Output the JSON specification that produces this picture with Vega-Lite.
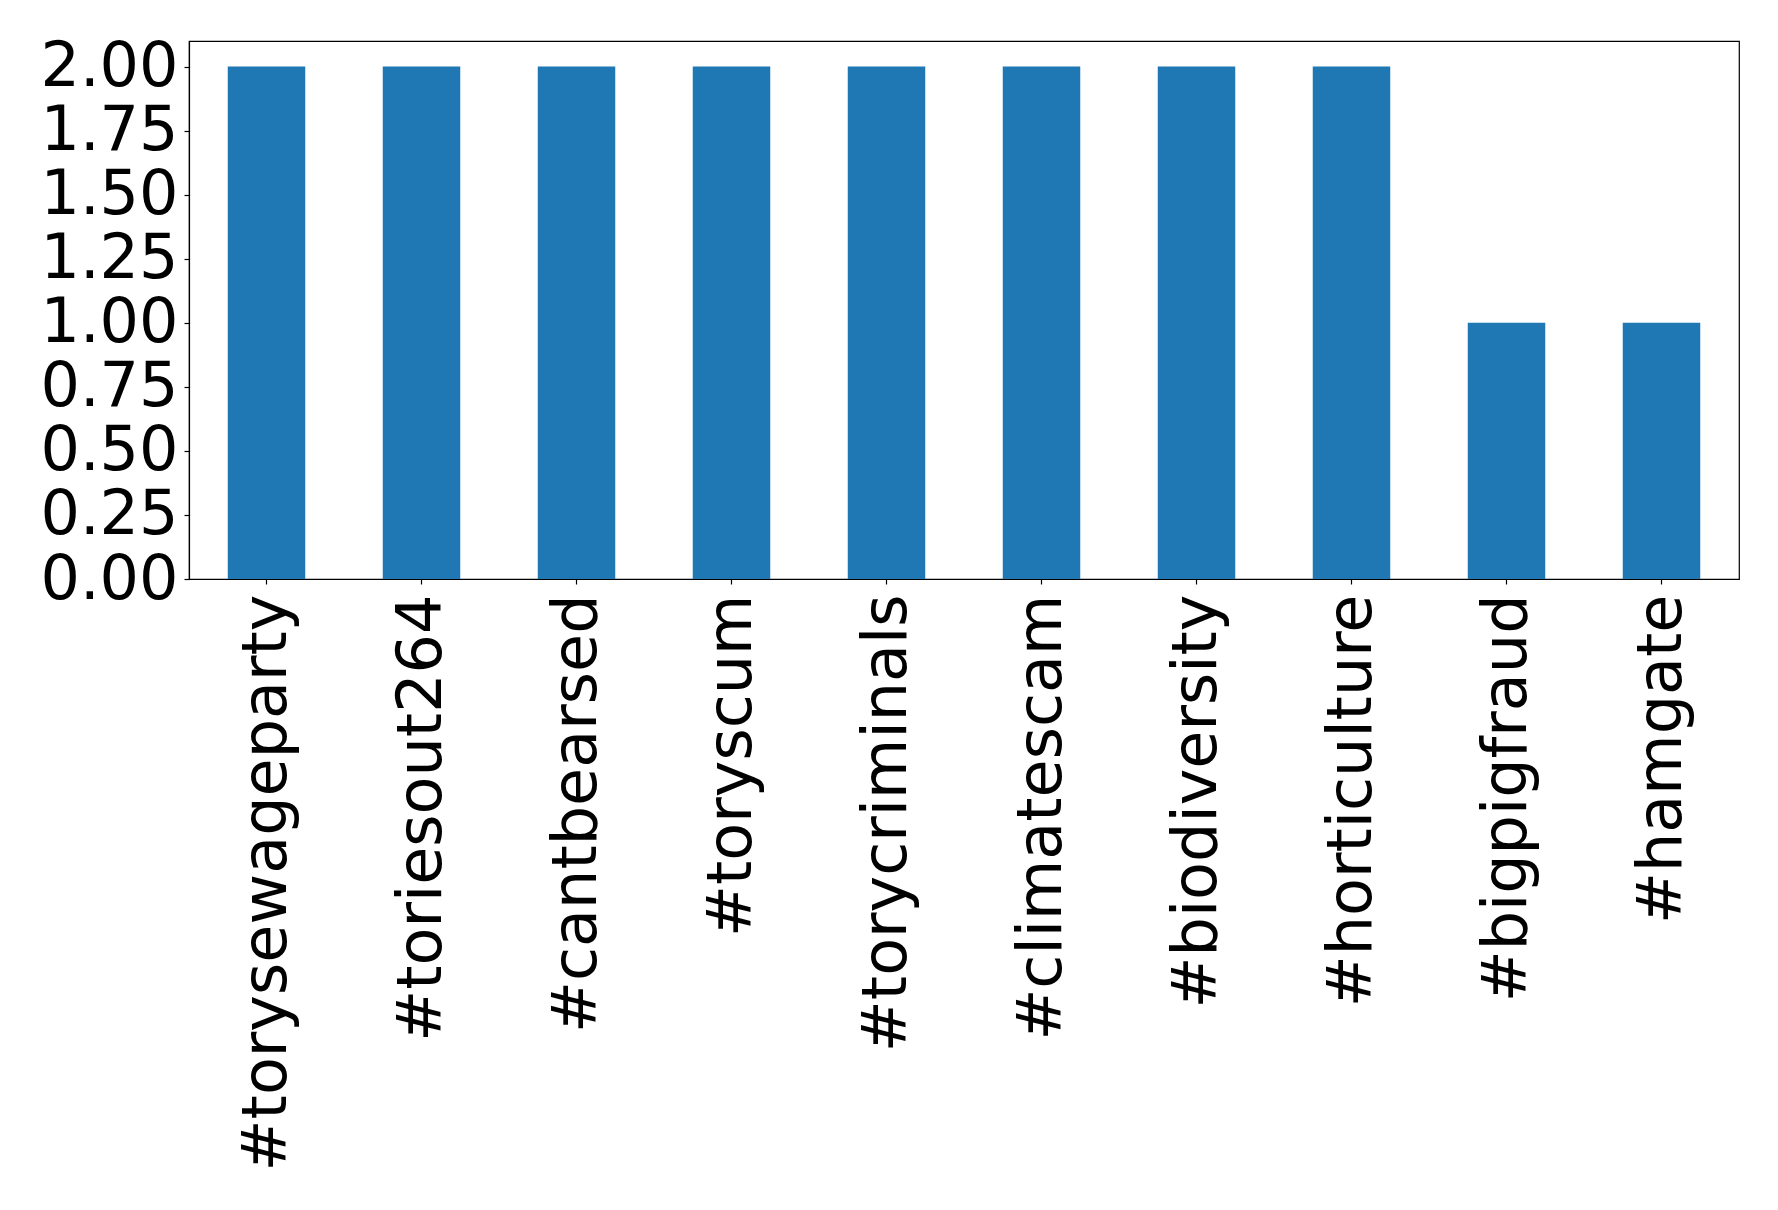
{
  "$schema": "https://vega.github.io/schema/vega-lite/v6.json",
  "autosize": "none",
  "padding": {"left": 189, "top": 41, "right": 39, "bottom": 631},
  "width": 1550,
  "height": 538,
  "background": "white",
  "config": {
    "view": {"stroke": "black", "strokeWidth": 1.2},
    "axis": {
      "domainColor": "black",
      "domainWidth": 1.2,
      "tickColor": "black",
      "tickWidth": 1.2,
      "tickSize": 5,
      "labelFont": "DejaVu Sans",
      "labelFontSize": 62,
      "labelColor": "black",
      "grid": false,
      "title": null
    }
  },
  "data": {
    "values": [
      {"tag": "#torysewageparty", "count": 2},
      {"tag": "#toriesout264", "count": 2},
      {"tag": "#cantbearsed", "count": 2},
      {"tag": "#toryscum", "count": 2},
      {"tag": "#torycriminals", "count": 2},
      {"tag": "#climatescam", "count": 2},
      {"tag": "#biodiversity", "count": 2},
      {"tag": "#horticulture", "count": 2},
      {"tag": "#bigpigfraud", "count": 1},
      {"tag": "#hamgate", "count": 1}
    ]
  },
  "mark": {"type": "bar", "color": "#1f77b4"},
  "encoding": {
    "x": {
      "field": "tag",
      "type": "nominal",
      "sort": null,
      "scale": {"paddingInner": 0.5, "paddingOuter": 0.25},
      "axis": {"labelAngle": -90, "labelPadding": 10, "labelLimit": 0}
    },
    "y": {
      "field": "count",
      "type": "quantitative",
      "scale": {"domain": [0, 2.1], "nice": false, "zero": true},
      "axis": {"values": [0, 0.25, 0.5, 0.75, 1.0, 1.25, 1.5, 1.75, 2.0], "format": ".2f", "labelPadding": 6}
    }
  }
}
